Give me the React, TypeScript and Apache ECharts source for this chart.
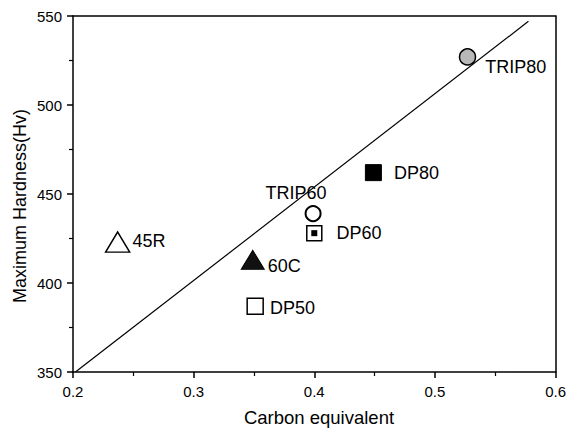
import React, { useEffect, useRef } from "react";
import * as echarts from "echarts";

const names = ["TRIP80", "DP80", "TRIP60", "DP60", "45R", "60C", "DP50"];
const carbonEq = [0.527, 0.449, 0.399, 0.4, 0.237, 0.349, 0.351];
const hardness = [527, 462, 439, 428, 423, 413, 387];
const fitLineX = [0.202, 0.5775];
const fitLineY = [350, 547];
const xTicks = [0.2, 0.3, 0.4, 0.5, 0.6];
const yTicks = [350, 400, 450, 500, 550];

const FONT = "Liberation Sans, Arial, Helvetica, sans-serif";

type Style = {
  symbol: string;
  size: number | number[];
  color: string;
  border: string;
  bw: number;
  pos: string;
  dist: number;
  off: number[];
};

const styles: Style[] = [
  { symbol: "circle", size: 16, color: "#b8b8b8", border: "#000", bw: 1.5, pos: "right", dist: 9, off: [0, 10] },
  { symbol: "rect", size: 16, color: "#000", border: "#000", bw: 1, pos: "right", dist: 12, off: [0, 0] },
  { symbol: "circle", size: 15, color: "#fff", border: "#000", bw: 2, pos: "top", dist: 3, off: [-17, 0] },
  { symbol: "rect", size: 15, color: "#fff", border: "#000", bw: 1.5, pos: "right", dist: 14, off: [0, 0] },
  { symbol: "triangle", size: [24, 20], color: "#fff", border: "#000", bw: 1.5, pos: "right", dist: 2, off: [0, -1] },
  { symbol: "triangle", size: [23, 19], color: "#111", border: "#000", bw: 1, pos: "right", dist: 3, off: [0, 6] },
  { symbol: "rect", size: 16, color: "#fff", border: "#000", bw: 1.5, pos: "right", dist: 6, off: [0, 2] },
];

export default function App() {
  const ref = useRef<HTMLDivElement>(null);
  useEffect(() => {
    if (!ref.current) return;
    const chart = echarts.init(ref.current, null, { renderer: "svg" });
    const pointData = names.map((n, i) => {
      const s = styles[i];
      return {
        name: n,
        value: [carbonEq[i], hardness[i]],
        symbol: s.symbol,
        symbolSize: s.size,
        itemStyle: { color: s.color, borderColor: s.border, borderWidth: s.bw, opacity: 1 },
        label: {
          show: true,
          formatter: n,
          position: s.pos,
          distance: s.dist,
          offset: s.off,
          color: "#000",
          fontSize: 18,
          fontFamily: FONT,
        },
      };
    });
    const dp60 = names.indexOf("DP60");
    chart.setOption({
      animation: false,
      backgroundColor: "#fff",
      grid: { left: 73, right: 13, top: 16, bottom: 58 },
      xAxis: [
        {
          type: "value",
          min: xTicks[0],
          max: xTicks[xTicks.length - 1],
          interval: 0.1,
          axisLine: { show: true, onZero: false, lineStyle: { color: "#000", width: 1.5 } },
          axisTick: { show: true, inside: false, length: 6, lineStyle: { color: "#000", width: 1.5 } },
          minorTick: { show: true, splitNumber: 2, length: 4, lineStyle: { color: "#000", width: 1.2 } },
          splitLine: { show: false },
          axisLabel: {
            color: "#000",
            fontSize: 15,
            fontFamily: FONT,
            margin: 12,
            formatter: (v: number) => v.toFixed(1),
          },
        },
        {
          type: "value",
          position: "top",
          min: xTicks[0],
          max: xTicks[xTicks.length - 1],
          axisLine: { show: true, onZero: false, lineStyle: { color: "#000", width: 1.5 } },
          axisTick: { show: false },
          axisLabel: { show: false },
          splitLine: { show: false },
        },
      ],
      yAxis: [
        {
          type: "value",
          min: yTicks[0],
          max: yTicks[yTicks.length - 1],
          interval: 50,
          axisLine: { show: true, onZero: false, lineStyle: { color: "#000", width: 1.5 } },
          axisTick: { show: true, inside: false, length: 6, lineStyle: { color: "#000", width: 1.5 } },
          minorTick: { show: true, splitNumber: 2, length: 4, lineStyle: { color: "#000", width: 1.2 } },
          splitLine: { show: false },
          axisLabel: { color: "#000", fontSize: 15, fontFamily: FONT, margin: 11 },
        },
        {
          type: "value",
          position: "right",
          min: yTicks[0],
          max: yTicks[yTicks.length - 1],
          axisLine: { show: true, onZero: false, lineStyle: { color: "#000", width: 1.5 } },
          axisTick: { show: false },
          axisLabel: { show: false },
          splitLine: { show: false },
        },
      ],
      graphic: [
        {
          type: "text",
          x: 319,
          y: 417,
          style: {
            text: "Carbon equivalent",
            fontSize: 18.5,
            fontFamily: FONT,
            fill: "#000",
            align: "center",
            verticalAlign: "middle",
          },
        },
        {
          type: "text",
          x: 20,
          y: 206,
          rotation: Math.PI / 2,
          style: {
            text: "Maximum Hardness(Hv)",
            fontSize: 18,
            fontFamily: FONT,
            fill: "#000",
            align: "center",
            verticalAlign: "middle",
          },
        },
      ],
      series: [
        {
          type: "line",
          data: fitLineX.map((x, i) => [x, fitLineY[i]]),
          showSymbol: false,
          symbol: "none",
          lineStyle: { color: "#000", width: 1.2 },
          z: 1,
        },
        {
          type: "scatter",
          data: pointData,
          z: 3,
        },
        {
          type: "scatter",
          data: [[carbonEq[dp60], hardness[dp60]]],
          symbol: "rect",
          symbolSize: 6,
          itemStyle: { color: "#000", opacity: 1 },
          z: 4,
        },
      ],
    });
    return () => chart.dispose();
  }, []);
  return <div ref={ref} style={{ width: 569, height: 430, position: "absolute", left: 0, top: 0 }} />;
}
